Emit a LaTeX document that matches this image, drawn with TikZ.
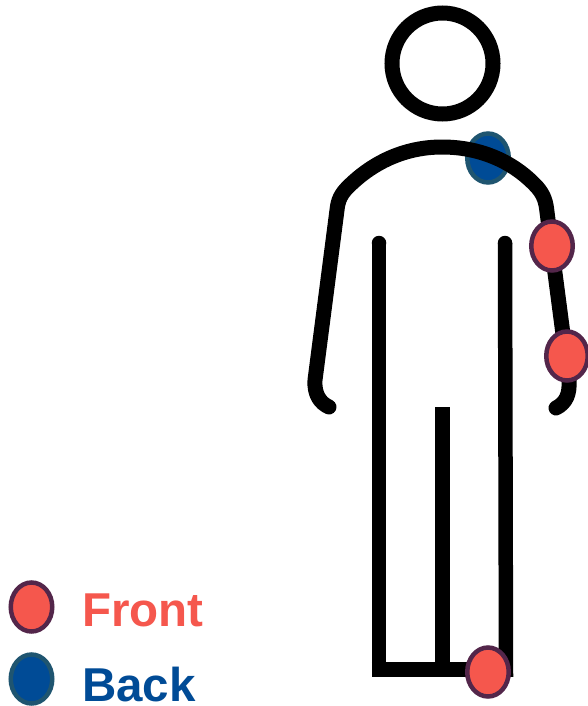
\documentclass[tikz,border=0pt]{standalone}
\usepackage{fontspec}
\setmainfont{Liberation Sans}
\usetikzlibrary{shapes.geometric}
\definecolor{redfill}{HTML}{F5574D}
\definecolor{rededge}{HTML}{53264A}
\definecolor{bluefill}{HTML}{004B96}
\definecolor{blueedge}{HTML}{1F5570}
\tikzset{
  body/.style={draw=black,line width=15bp,line cap=round,line join=round},
  bodybutt/.style={draw=black,line width=14.5bp},
  dot/.style={ellipse,inner sep=0pt,outer sep=0pt,minimum width=41.5bp,minimum height=49bp,line width=4.5bp},
  frontdot/.style={dot,draw=rededge,fill=redfill},
  backdot/.style={dot,draw=blueedge,fill=bluefill},
  legendtext/.style={font=\fontsize{47.5bp}{50bp}\selectfont\bfseries,anchor=base west,inner sep=0pt}
}
\begin{document}
\begin{tikzpicture}[x=1bp,y=-1bp]
\useasboundingbox[fill=white] (0,0) rectangle (588,706);
% back marker lies behind the body
\node[backdot] (backShoulder) at (488,158) {};
% head
\draw[draw=black,line width=15bp] (442.5,63.5) circle [radius=50.5];
% arms and shoulders
\draw[body] (329,407) .. controls (320,403) and (314,394) .. (315,380)
  -- (337,210) .. controls (338,200) and (341,194) .. (348,187)
  .. controls (375,160) and (408,147) .. (442,147)
  .. controls (478,147) and (512,160) .. (537,187)
  .. controls (544,195) and (546,202) .. (547,212)
  -- (569,380) .. controls (570,394) and (566,403) .. (556,408);
% torso and legs
\draw[bodybutt] (379,669.5) -- (379,243);
\fill (379,243) circle [radius=7.25];
\draw[bodybutt] (505,243) -- (506,677);
\fill (505,243) circle [radius=7.25];
\draw[bodybutt] (442.5,407) -- (442.5,669);
\draw[draw=black,line width=15bp] (371.75,669.5) -- (513.25,669.5);
% front markers
\node[frontdot] (armUpper) at (552,246) {};
\node[frontdot] (armLower) at (567,356) {};
\node[frontdot] (foot) at (488,672) {};
% legend
\node[frontdot] (legendFront) at (31.5,607) {};
\node[backdot] (legendBack) at (31.5,679) {};
\node[legendtext,text=redfill] (labelFront) at (82,626) {Front};
\node[legendtext,text=bluefill] (labelBack) at (82,701) {Back};
\end{tikzpicture}
\end{document}
